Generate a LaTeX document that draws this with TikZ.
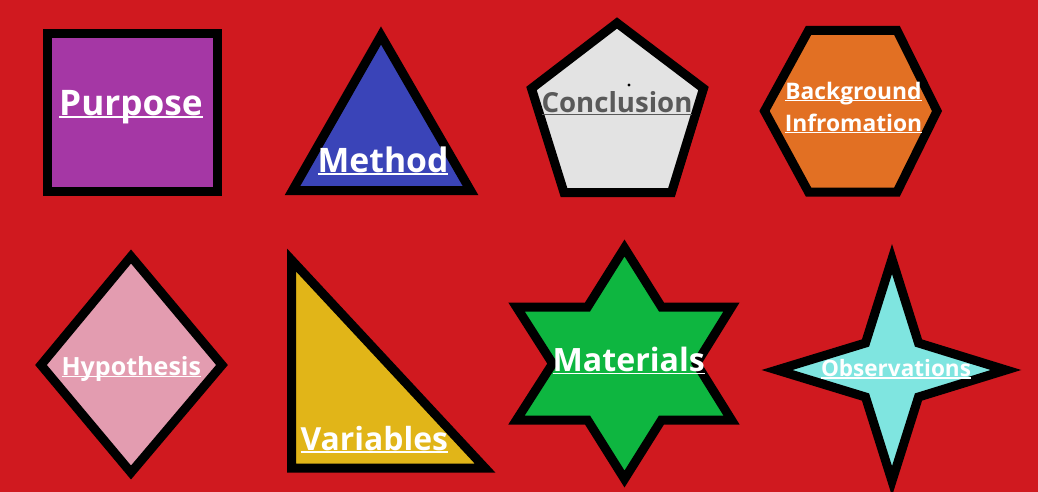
\documentclass[tikz,border=0pt]{standalone}
\usepackage{fontspec}
\setmainfont{Open Sans}
\usepackage{tikz}
\definecolor{bgred}{HTML}{D0191F}
\definecolor{purplefill}{HTML}{A537A5}
\definecolor{bluefill}{HTML}{3A44B8}
\definecolor{greyfill}{HTML}{E3E3E3}
\definecolor{greytext}{HTML}{595959}
\definecolor{orangefill}{HTML}{E27023}
\definecolor{pinkfill}{HTML}{E39CB0}
\definecolor{yellowfill}{HTML}{E1B518}
\definecolor{greenfill}{HTML}{0EB640}
\definecolor{cyanfill}{HTML}{7FE5E0}
\newsavebox\ulbox
\newcommand{\ulword}[1]{\sbox\ulbox{#1}\rlap{\rule[-0.085em]{\wd\ulbox}{0.055em}}\usebox\ulbox}
\newcommand{\fsz}[1]{\fontsize{#1}{1.2\dimexpr#1pt\relax}\selectfont\bfseries}
\tikzset{
  shapebox/.style = {draw=black, line width=6.75pt, line join=miter},
  lbl/.style      = {anchor=base, inner sep=0pt, text=white},
}

\begin{document}
\begin{tikzpicture}[x=0.75pt, y=-0.75pt]

  % background
  \fill[bgred] (0,0) rectangle (1038,492);
  \useasboundingbox (0,0) rectangle (1038,492);

  % Purpose
  \draw[shapebox, fill=purplefill] (47.5,33.5) rectangle (217.5,191.5);
  \node[lbl, font=\fsz{26.4}] (purpose) at (131,115) {\ulword{Purpose}};

  % Method
  \draw[shapebox, fill=bluefill] (381,35.5) -- (470.5,190.5) -- (292.5,190.5) -- cycle;
  \node[lbl, font=\fsz{25.3}] (method) at (383,172) {\ulword{Method}};

  % Conclusion
  \draw[shapebox, fill=greyfill] (617,23) -- (703.5,88.5) -- (671.5,192.5)
    -- (564,192.5) -- (531.5,88.5) -- cycle;
  \fill[black] (629,85) circle (1.6);
  \node[lbl, text=greytext, font=\fsz{20.7}] (conclusion) at (617,113) {\ulword{Conclusion}};

  % Background Infromation
  \draw[shapebox, fill=orangefill] (808.5,30.5) -- (897,30.5) -- (937,111)
    -- (897,192) -- (808.5,192) -- (764.5,111) -- cycle;
  \node[lbl, font=\fsz{17.1}] (background) at (853.5,99) {\ulword{Background}};
  \node[lbl, font=\fsz{17.1}] (infromation) at (853.5,131) {\ulword{Infromation}};

  % Hypothesis
  \draw[shapebox, fill=pinkfill] (131,256.5) -- (222,365) -- (131,472.5) -- (41,365) -- cycle;
  \node[lbl, font=\fsz{18.8}] (hypothesis) at (131.3,375) {\ulword{Hypothesis}};

  % Variables
  \draw[shapebox, fill=yellowfill] (291.5,260) -- (485,468) -- (291.5,468) -- cycle;
  \node[lbl, font=\fsz{23.9}] (variables) at (374.3,450) {\ulword{Variables}};

  % Materials
  \draw[shapebox, fill=greenfill] (624.5,248) -- (661.5,307) -- (731.5,307) -- (696.4,363.6)
    -- (731.5,420) -- (661.5,420) -- (624.5,479) -- (587.5,420) -- (516.5,420)
    -- (552.6,363.6) -- (516.5,307) -- (587.5,307) -- cycle;
  \node[lbl, font=\fsz{24.1}] (materials) at (628.8,371.7) {\ulword{Materials}};

  % Observations
  \draw[shapebox, fill=cyanfill] (892,259) -- (918.5,343) -- (1006,370) -- (918.5,397)
    -- (892,481) -- (865.5,397) -- (777,370) -- (865.5,343) -- cycle;
  \node[lbl, font=\fsz{16.9}] (observations) at (896,376.7) {\ulword{Observations}};

\end{tikzpicture}
\end{document}
